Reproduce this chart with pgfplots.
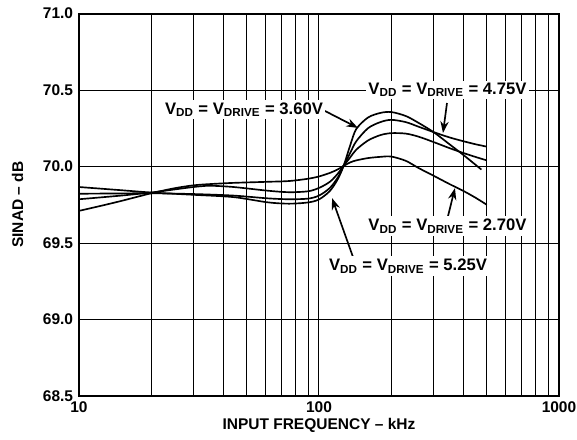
\documentclass[border=0pt]{standalone}
\usepackage{fontspec}
\setmainfont{Liberation Sans}
\usepackage{pgfplots}
\pgfplotsset{compat=1.18}
\usetikzlibrary{arrows.meta}
\tikzset{
  curve/.style={black, line width=1.0pt, smooth},
  lbl/.style={fill=white, inner sep=1.5pt, font=\fontsize{10}{12}\selectfont\bfseries},
  arr/.style={-{Stealth[length=7pt,width=5pt]}, line width=1.0pt},
}
\begin{document}
\begin{tikzpicture}
\begin{axis}[
  name=ax,
  scale only axis,
  width=288pt, height=229.5pt,
  xmode=log, xmin=10, xmax=1000,
  ymin=68.5, ymax=71.0,
  ytick={68.5,69,69.5,70,70.5,71},
  xtick={10,100,1000},
  xticklabels={10,100,1000},
  minor xtick={20,30,40,50,60,70,80,90,200,300,400,500,600,700,800,900},
  grid=both,
  major grid style={black, line width=0.6pt},
  minor grid style={black, line width=0.5pt},
  axis line style={line width=1.2pt},
  major tick length=0pt, minor tick length=0pt,
  tick label style={font=\fontsize{9.3}{11}\selectfont\bfseries},
  yticklabel style={/pgf/number format/.cd, fixed, fixed zerofill, precision=1},
  /pgf/number format/assume math mode=true,
  xlabel={INPUT FREQUENCY -- kHz}, ylabel={SINAD -- dB},
  label style={font=\fontsize{9.3}{11}\selectfont\bfseries},
  xlabel style={yshift=3.6pt},
  ylabel style={yshift=5pt},
]
% 2.70V
\addplot[curve, no markers] coordinates {
(10,69.71) (12.5,69.745) (15,69.775) (20,69.825) (25,69.858) (30,69.877) (35,69.885)
(44,69.893) (61,69.90) (75,69.905) (90,69.92) (100,69.935) (111,69.958) (120,69.982)
(127,70.005) (135,70.027) (143,70.04) (160,70.055) (180,70.063) (200,70.065) (230,70.037)
(260,69.99) (300,69.94) (350,69.885) (400,69.84) (450,69.795) (500,69.75)};
% 4.75V
\addplot[curve, no markers] coordinates {
(10,69.786) (15,69.81) (20,69.83) (25,69.85) (30,69.866) (35,69.874) (44,69.866)
(61,69.842) (75,69.832) (90,69.838) (100,69.86) (111,69.90) (120,69.955) (127,70.01)
(135,70.09) (143,70.165) (160,70.25) (180,70.29) (200,70.305) (230,70.29) (260,70.26)
(300,70.225) (350,70.19) (400,70.165) (450,70.145) (500,70.13)};
% 5.25V
\addplot[curve, no markers] coordinates {
(10,69.822) (15,69.824) (20,69.825) (30,69.82) (44,69.81) (61,69.792) (75,69.786)
(90,69.79) (100,69.81) (111,69.86) (120,69.93) (127,70.005) (135,70.06) (143,70.11)
(160,70.17) (180,70.205) (200,70.218) (230,70.215) (260,70.195) (300,70.16) (350,70.12)
(400,70.088) (450,70.062) (500,70.04)};
% 3.60V
\addplot[curve, no markers] coordinates {
(10,69.866) (15,69.845) (20,69.83) (30,69.815) (44,69.80) (61,69.766) (75,69.757)
(90,69.765) (100,69.785) (111,69.84) (120,69.92) (127,70.01) (135,70.14) (143,70.245)
(160,70.32) (180,70.35) (200,70.356) (230,70.33) (260,70.285) (300,70.225) (350,70.145)
(400,70.075) (450,70.01) (475,69.98)};

\draw[arr] (axis cs:105.9,70.363) -- (axis cs:145.4,70.252);
\draw[arr] (axis cs:341.5,70.415) -- (axis cs:328.6,70.219);
\draw[arr] (axis cs:344.8,69.676) -- (axis cs:368.7,69.859);
\draw[arr] (axis cs:138.6,69.408) -- (axis cs:113.3,69.794);

\node[lbl] at (axis cs:48.7,70.37) {V\textsubscript{DD} = V\textsubscript{DRIVE} = 3.60V};
\node[lbl] at (axis cs:343,70.5) {V\textsubscript{DD} = V\textsubscript{DRIVE} = 4.75V};
\node[lbl] at (axis cs:343,69.611) {V\textsubscript{DD} = V\textsubscript{DRIVE} = 2.70V};
\node[lbl] at (axis cs:234.9,69.35) {V\textsubscript{DD} = V\textsubscript{DRIVE} = 5.25V};
\end{axis}
\pgfresetboundingbox
\path (ax.south west) ++(-47.4pt,-25.8pt) rectangle ++(346.2pt,263.4pt);
\end{tikzpicture}
\end{document}
